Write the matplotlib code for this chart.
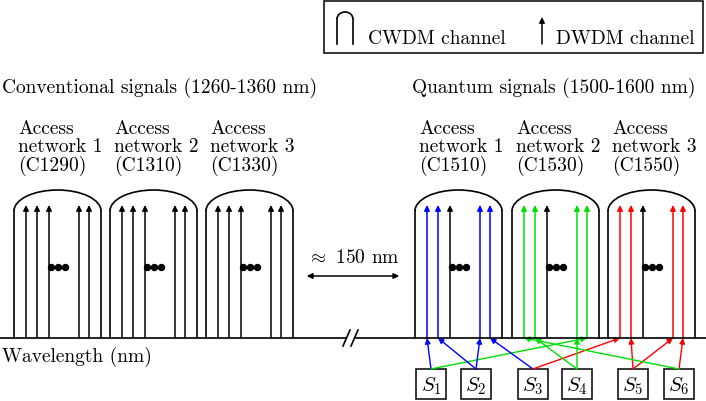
import matplotlib
matplotlib.use("Agg")
import matplotlib.pyplot as plt
from matplotlib.patches import FancyArrowPatch, Rectangle, Arc

plt.rcParams["font.family"] = "serif"
plt.rcParams["font.serif"] = ["cmr10"]
plt.rcParams["mathtext.fontset"] = "cm"
plt.rcParams["axes.unicode_minus"] = False

# ---- data ----
conv_labels = ["Access\nnetwork 1\n(C1290)", "Access\nnetwork 2\n(C1310)", "Access\nnetwork 3\n(C1330)"]
quant_labels = ["Access\nnetwork 1\n(C1510)", "Access\nnetwork 2\n(C1530)", "Access\nnetwork 3\n(C1550)"]
conv_env_left = [14, 110, 206]
quant_env_left = [415, 512, 608]
env_width = 87
arrow_offsets = [12, 23, 35, 65, 75]
quant_arrow_colors = [["blue", "blue", "black", "blue", "blue"],
                      ["#00e000", "#00e000", "black", "#00e000", "#00e000"],
                      ["red", "red", "black", "red", "red"]]
source_labels = ["$S_1$", "$S_2$", "$S_3$", "$S_4$", "$S_5$", "$S_6$"]
source_x = [431, 476, 533, 577, 633, 679]
# (source index, network index, arrow index, color)
links = [(0, 0, 0, "blue"), (0, 1, 4, "#00e000"),
         (1, 0, 1, "blue"), (1, 0, 3, "blue"),
         (2, 0, 4, "blue"), (2, 2, 0, "red"),
         (3, 1, 1, "#00e000"), (3, 1, 3, "#00e000"),
         (4, 2, 1, "red"), (4, 2, 3, "red"),
         (5, 2, 4, "red"), (5, 1, 0, "#00e000")]

W, H = 706, 402
fig = plt.figure(figsize=(W / 100, H / 100), dpi=100)
ax = fig.add_axes([0, 0, 1, 1])
ax.set_xlim(0, W)
ax.set_ylim(H, 0)
ax.axis("off")

BASE = 339
SHOULDER = 212
TOP = 191
TIP = 206
FS = 14

def envelope(x0):
    x1 = x0 + env_width
    ax.plot([x0, x0], [BASE, SHOULDER], color="black", lw=1.2)
    ax.plot([x1, x1], [BASE, SHOULDER], color="black", lw=1.2)
    arc = Arc(((x0 + x1) / 2, SHOULDER), env_width, 2 * (SHOULDER - TOP),
              theta1=180, theta2=360, color="black", lw=1.2)
    ax.add_patch(arc)
    ax.plot([x0 + env_width / 2 + d for d in (-7, 0, 7)], [268] * 3, "o",
            color="black", ms=4.3)

def arrow(x, y0, y1, color, x1=None, lw=1.1):
    if x1 is None:
        x1 = x
    ax.add_patch(FancyArrowPatch((x, y0), (x1, y1), arrowstyle="-|>",
                                 mutation_scale=8, color=color, lw=lw,
                                 shrinkA=0, shrinkB=0))

# baseline with break
ax.plot([0, 346], [BASE, BASE], color="black", lw=1.2)
ax.plot([356, W], [BASE, BASE], color="black", lw=1.2)
ax.plot([343, 350], [347, 331], color="black", lw=1.2)
ax.plot([351, 358], [347, 331], color="black", lw=1.2)

for i, x0 in enumerate(conv_env_left):
    envelope(x0)
    for d in arrow_offsets:
        arrow(x0 + d, BASE, TIP, "black")
    ax.text(x0 + 4, 120, conv_labels[i], fontsize=FS, va="top", ha="left",
            linespacing=1.0)

for i, x0 in enumerate(quant_env_left):
    envelope(x0)
    for d, c in zip(arrow_offsets, quant_arrow_colors[i]):
        arrow(x0 + d, BASE, TIP, c)
    ax.text(x0 + 4, 120, quant_labels[i], fontsize=FS, va="top", ha="left",
            linespacing=1.0)

# sources
for lbl, sx in zip(source_labels, source_x):
    ax.add_patch(Rectangle((sx - 15, 370), 30, 30, fill=False, ec="black", lw=1.1))
    ax.text(sx, 386, lbl, fontsize=FS + 1, ha="center", va="center")
for s, n, a, c in links:
    tx = quant_env_left[n] + arrow_offsets[a]
    arrow(source_x[s], 370, BASE, c, x1=tx, lw=1.0)

# 150 nm gap
ax.add_patch(FancyArrowPatch((304, 277), (402, 277), arrowstyle="<|-|>",
                             mutation_scale=8, color="black", lw=1.1))
ax.text(353, 258, r"$\approx$ 150 nm", fontsize=FS, ha="center", va="center")

ax.text(2, 88, "Conventional signals (1260-1360 nm)", fontsize=FS, ha="left", va="center")
ax.text(412, 88, "Quantum signals (1500-1600 nm)", fontsize=FS, ha="left", va="center")
ax.text(2, 357, "Wavelength (nm)", fontsize=FS, ha="left", va="center")

# legend box
ax.add_patch(Rectangle((324, 2), 379, 52, fill=False, ec="black", lw=1.1))
lx0, lx1 = 337, 353
ax.plot([lx0, lx0], [45, 20], color="black", lw=1.2)
ax.plot([lx1, lx1], [45, 20], color="black", lw=1.2)
ax.add_patch(Arc(((lx0 + lx1) / 2, 20), lx1 - lx0, 14, theta1=180, theta2=360,
                 color="black", lw=1.2))
ax.text(368, 39, "CWDM channel", fontsize=FS, ha="left", va="center")
arrow(542, 45, 18, "black")
ax.text(556, 39, "DWDM channel", fontsize=FS, ha="left", va="center")

fig.savefig("out.png", dpi=100)
